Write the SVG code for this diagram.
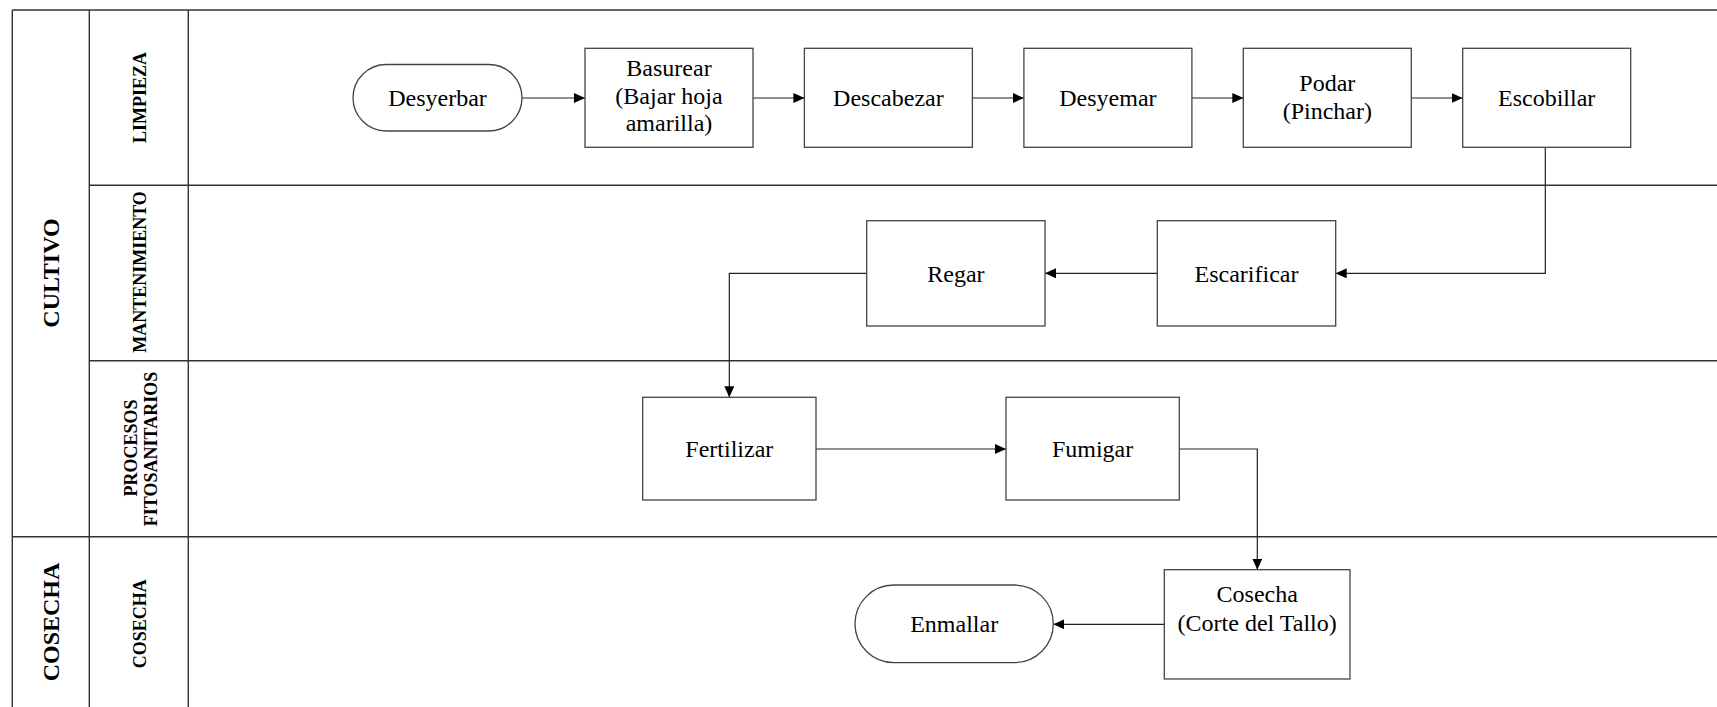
<svg xmlns="http://www.w3.org/2000/svg" width="1717" height="707" viewBox="0 0 1717 707">
<style>
.lane{stroke:#333;stroke-width:1.4;fill:none}
.box{fill:#fff;stroke:#444;stroke-width:1.3}
.t{font-family:"Liberation Serif","Times New Roman",serif;font-size:24px;fill:#000;text-anchor:middle}
.lbl{font-family:"Liberation Serif","Times New Roman",serif;font-weight:bold;font-size:18px;fill:#000;text-anchor:middle}
.big{font-family:"Liberation Serif","Times New Roman",serif;font-weight:bold;font-size:24px;fill:#000;text-anchor:middle}
.c{stroke:#222;stroke-width:1.2;fill:none;marker-end:url(#ah)}
</style>
<defs>
<marker id="ah" viewBox="0 0 11 10" refX="11" refY="5" markerWidth="11" markerHeight="10" markerUnits="userSpaceOnUse" orient="auto">
<path d="M0,0 L11,5 L0,10 Z" fill="#000"/>
</marker>
</defs>
<rect width="1717" height="707" fill="#fff"/>
<g id="pool">
<line class="lane" x1="12.3" y1="10" x2="1717" y2="10"/>
<line class="lane" x1="12.3" y1="10" x2="12.3" y2="707"/>
<line class="lane" x1="89.3" y1="10" x2="89.3" y2="707"/>
<line class="lane" x1="188.3" y1="10" x2="188.3" y2="707"/>
<line class="lane" x1="89.3" y1="185.3" x2="1717" y2="185.3"/>
<line class="lane" x1="89.3" y1="360.7" x2="1717" y2="360.7"/>
<line class="lane" x1="12.3" y1="536.7" x2="1717" y2="536.7"/>
<text class="big" transform="translate(59.3,273) rotate(-90)">CULTIVO</text>
<text class="big" transform="translate(59.3,622) rotate(-90)">COSECHA</text>
<text class="lbl" transform="translate(145.5,97.5) rotate(-90)">LIMPIEZA</text>
<text class="lbl" transform="translate(145.5,272) rotate(-90)">MANTENIMIENTO</text>
<text class="lbl" transform="translate(136.5,448) rotate(-90)">PROCESOS</text>
<text class="lbl" transform="translate(156.5,449) rotate(-90)">FITOSANITARIOS</text>
<text class="lbl" transform="translate(145.5,623.8) rotate(-90)">COSECHA</text>
</g>
<g id="connectors">
<path class="c" d="M522,98 H585"/>
<path class="c" d="M753,98 H804.4"/>
<path class="c" d="M972.4,98 H1023.9"/>
<path class="c" d="M1191.9,98 H1243.3"/>
<path class="c" d="M1411.3,98 H1462.7"/>
<path class="c" d="M1545.3,147.3 V273.3 H1335.7"/>
<path class="c" d="M1157.3,273.3 H1045"/>
<path class="c" d="M866.7,273.3 H729.3 V397.3"/>
<path class="c" d="M816,449 H1006"/>
<path class="c" d="M1179.3,449 H1257.3 V569.7"/>
<path class="c" d="M1164.3,624.3 H1053.3"/>
</g>
<g id="n-desyerbar"><rect class="box" x="353" y="64.5" width="169" height="66.5" rx="33.25"/><text class="t" x="437.5" y="106">Desyerbar</text></g>
<g id="n-basurear"><rect class="box" x="585" y="48.3" width="168" height="99"/><text class="t" x="669" y="76">Basurear</text><text class="t" x="669" y="103.5">(Bajar hoja</text><text class="t" x="669" y="131">amarilla)</text></g>
<g id="n-descabezar"><rect class="box" x="804.4" y="48.3" width="168" height="99"/><text class="t" x="888.4" y="106">Descabezar</text></g>
<g id="n-desyemar"><rect class="box" x="1023.9" y="48.3" width="168" height="99"/><text class="t" x="1107.9" y="106">Desyemar</text></g>
<g id="n-podar"><rect class="box" x="1243.3" y="48.3" width="168" height="99"/><text class="t" x="1327.3" y="91">Podar</text><text class="t" x="1327.3" y="118.5">(Pinchar)</text></g>
<g id="n-escobillar"><rect class="box" x="1462.7" y="48.3" width="168" height="99"/><text class="t" x="1546.7" y="106">Escobillar</text></g>
<g id="n-escarificar"><rect class="box" x="1157.3" y="220.7" width="178.4" height="105.3"/><text class="t" x="1246.5" y="281.7">Escarificar</text></g>
<g id="n-regar"><rect class="box" x="866.7" y="220.7" width="178.3" height="105.3"/><text class="t" x="955.9" y="281.7">Regar</text></g>
<g id="n-fertilizar"><rect class="box" x="642.7" y="397.3" width="173.3" height="102.7"/><text class="t" x="729.3" y="457">Fertilizar</text></g>
<g id="n-fumigar"><rect class="box" x="1006" y="397.3" width="173.3" height="102.7"/><text class="t" x="1092.6" y="457">Fumigar</text></g>
<g id="n-cosecha"><rect class="box" x="1164.3" y="569.7" width="185.7" height="109.3"/><text class="t" x="1257.2" y="602">Cosecha</text><text class="t" x="1257.2" y="631">(Corte del Tallo)</text></g>
<g id="n-enmallar"><rect class="box" x="855" y="585" width="198.3" height="77.7" rx="38.85"/><text class="t" x="954.2" y="632.3">Enmallar</text></g>
</svg>
